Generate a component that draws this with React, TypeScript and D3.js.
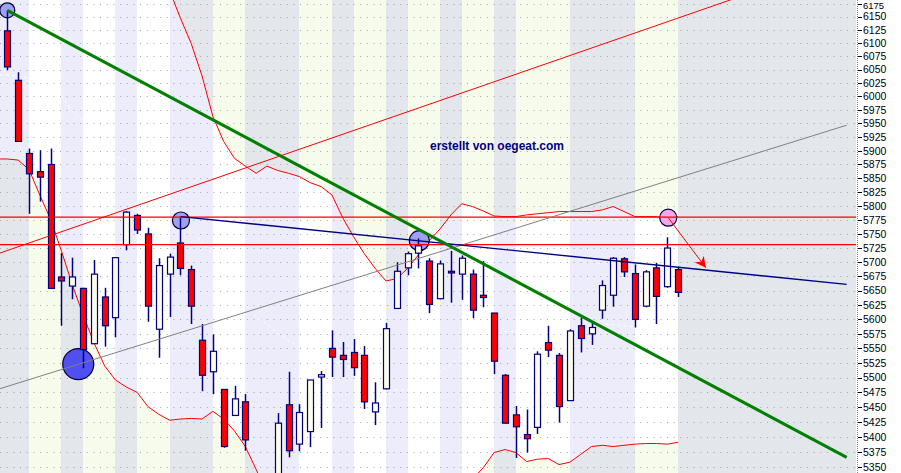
import React, { useEffect } from 'react';
import * as d3 from 'd3';

// ---------------- DATA ----------------
const opens = [6123, 6030, 5895, 5862, 5875, 5674, 5658, 5654, 5558, 5639, 5603, 5731, 5783, 5750, 5583, 5679, 5734, 5687, 5564, 5510, 5480, 5436, 5459, 5335, 5295, 5320, 5454, 5388, 5409, 5501, 5550, 5538, 5543, 5538, 5442, 5481, 5619, 5690, 5716, 5702, 5636, 5684, 5679, 5679, 5642, 5611, 5504, 5437, 5404, 5416, 5560, 5538, 5461, 5589, 5575, 5616, 5642, 5706, 5680, 5623, 5690, 5657, 5687];
const highs = [6162, 6045, 5904, 5901, 5904, 5716, 5708, 5655, 5704, 5655, 5708, 5791, 5786, 5761, 5707, 5715, 5781, 5694, 5592, 5574, 5480, 5486, 5472, 5340, 5338, 5440, 5510, 5455, 5496, 5511, 5581, 5561, 5566, 5554, 5492, 5594, 5700, 5719, 5742, 5707, 5703, 5720, 5712, 5687, 5702, 5611, 5506, 5452, 5446, 5545, 5589, 5542, 5583, 5603, 5596, 5668, 5709, 5709, 5696, 5686, 5699, 5744, 5692];
const lows = [6049, 5916, 5786, 5808, 5653, 5589, 5635, 5516, 5558, 5553, 5569, 5721, 5750, 5596, 5534, 5604, 5677, 5592, 5477, 5472, 5382, 5436, 5377, 5270, 5250, 5300, 5366, 5376, 5383, 5415, 5501, 5501, 5503, 5447, 5420, 5480, 5618, 5677, 5689, 5611, 5635, 5629, 5634, 5602, 5621, 5506, 5423, 5365, 5374, 5405, 5535, 5424, 5461, 5543, 5556, 5601, 5622, 5674, 5586, 5621, 5592, 5655, 5639];
const closes = [6055, 5917, 5858, 5852, 5654, 5667, 5674, 5548, 5679, 5589, 5708, 5789, 5757, 5623, 5694, 5709, 5689, 5623, 5504, 5545, 5384, 5464, 5395, 5290, 5320, 5423, 5377, 5441, 5496, 5505, 5535, 5531, 5517, 5459, 5457, 5584, 5684, 5715, 5729, 5626, 5697, 5681, 5707, 5616, 5638, 5528, 5423, 5417, 5397, 5540, 5547, 5451, 5580, 5567, 5586, 5659, 5707, 5683, 5600, 5683, 5640, 5725, 5647];

const upperBand = [6197, 6196, 6206, 6230, 6254, 6280, 6284, 6302, 6303, 6296, 6284, 6280, 6262, 6245, 6225, 6200, 6147, 6099, 6038, 5963, 5917, 5886, 5872, 5859, 5872, 5864, 5859, 5853, 5842, 5835, 5820, 5779, 5745, 5715, 5689, 5667, 5671, 5689, 5713, 5738, 5759, 5784, 5804, 5799, 5791, 5782, 5781, 5781, 5784, 5786, 5788, 5790, 5790, 5790, 5790, 5793, 5799, 5790, 5781, 5781, 5781, 5777, 5781];
const middleBand = [6040, 6038, 6034, 6025, 6015, 6000, 5973, 5955, 5932, 5908, 5890, 5882, 5860, 5840, 5818, 5795, 5773, 5756, 5735, 5713, 5689, 5662, 5626, 5604, 5592, 5575, 5564, 5552, 5546, 5537, 5529, 5522, 5515, 5501, 5491, 5480, 5479, 5480, 5489, 5501, 5511, 5522, 5539, 5552, 5563, 5573, 5579, 5579, 5577, 5577, 5579, 5580, 5582, 5584, 5589, 5591, 5591, 5589, 5587, 5587, 5589, 5592, 5596];
const lowerBand = [5885, 5883, 5866, 5820, 5776, 5720, 5661, 5608, 5560, 5520, 5496, 5484, 5475, 5451, 5438, 5428, 5430, 5431, 5430, 5443, 5430, 5410, 5384, 5346, 5305, 5290, 5280, 5270, 5265, 5262, 5260, 5262, 5265, 5270, 5275, 5280, 5285, 5290, 5295, 5300, 5305, 5310, 5320, 5330, 5349, 5374, 5379, 5374, 5359, 5363, 5364, 5354, 5358, 5371, 5384, 5386, 5384, 5386, 5388, 5389, 5389, 5388, 5391];

// stripe boundaries (candle index)
const stripeBreaks = [2, 5, 7, 10, 12, 15, 19, 22, 27, 30, 32, 35, 37, 40, 42, 45, 47, 52, 58, 62];

const priceTicks = [5350, 5375, 5400, 5425, 5450, 5475, 5500, 5525, 5550, 5575, 5600, 5625, 5650, 5675, 5700, 5725, 5750, 5775, 5800, 5825, 5850, 5875, 5900, 5925, 5950, 5975, 6000, 6025, 6050, 6075, 6100, 6125, 6150, 6175];

const horizontalLevels = [5780, 5731];

// trend lines: two anchor points (index, price) and drawn range (index)
const lineAnchors = [
  { key: 'gray', i1: 22.13, p1: 5613, i2: 67.72, p2: 5886, from: -1, to: 77.58 },
  { key: 'red', i1: 27.05, p1: 5903, i2: 54.78, p2: 6096, from: -1, to: 80 },
  { key: 'navy', i1: 16.05, p1: 5781, i2: 77.58, p2: 5661, from: 16.05, to: 77.58 },
  { key: 'green', i1: 0, p1: 6162, i2: 77.58, p2: 5366, from: 0, to: 77.58 },
];
const lineStyles: Record<string, { color: string; width: number }> = {
  gray: { color: '#808080', width: 1 },
  red: { color: '#ff0000', width: 1 },
  navy: { color: '#000080', width: 1.4 },
  green: { color: '#008000', width: 3 },
};

const markerIdx = [0, 6.56, 16.05, 38.08, 61.09];
const markerPrice = [6162, 5523, 5774, 5738, 5779];
const markerRadius = [7.5, 15.5, 8.5, 10, 8.5];
const markerFill = ['#a0a0f0', '#5050f0', '#a0a0f0', '#a0a0f0', '#f6a6ec'];

const arrowFrom = { i: 61.09, p: 5779 };
const arrowTo = { i: 64.57, p: 5690 };

// ---------------- CHART ----------------
const W = 901;
const H = 473;
const PR = 856; // plot right edge

export default function App() {
  useEffect(() => {
    document.body.style.margin = '0';
  }, []);

  const x = d3.scaleLinear().domain([0, 62]).range([7.3, 678.1]);
  const y = d3.scaleLog().domain([5350, 6175]).range([467, 3.5]);
  const n = opens.length;
  const iLeft = x.invert(0);
  const topTick = priceTicks[priceTicks.length - 1];

  type BP = { i: number; u: number; m: number; l: number };
  const bandPts: BP[] = [{ i: iLeft, u: upperBand[0], m: middleBand[0], l: lowerBand[0] }];
  for (let i = 0; i < n; i++) bandPts.push({ i, u: upperBand[i], m: middleBand[i], l: lowerBand[i] });

  const area = d3.area<BP>().x(d => x(d.i)).y0(d => y(d.l)).y1(d => y(d.u));
  const lineU = d3.line<BP>().x(d => x(d.i)).y(d => y(d.u));
  const lineL = d3.line<BP>().x(d => x(d.i)).y(d => y(d.l));
  const lineM = d3.line<BP>().x(d => x(d.i)).y(d => y(d.m));

  const bounds = [iLeft, ...stripeBreaks];
  const stripes: { x0: number; x1: number; k: number }[] = [];
  for (let k = 0; k < bounds.length - 1; k++) stripes.push({ x0: x(bounds[k]), x1: x(bounds[k + 1]), k });
  const outside = ['#e3e7eb', '#f7fbeb'];
  const inside = ['#ececfb', '#ffffff'];

  const trend = lineAnchors.map(a => {
    const X1 = x(a.i1), Y1 = y(a.p1), X2 = x(a.i2), Y2 = y(a.p2);
    const slope = (Y2 - Y1) / (X2 - X1);
    const xa = x(a.from), xb = x(a.to);
    return { key: a.key, xa, ya: Y1 + slope * (xa - X1), xb, yb: Y1 + slope * (xb - X1) };
  });

  return (
    <svg width={W} height={H} style={{ position: 'absolute', left: 0, top: 0, display: 'block' }} fontFamily="'Liberation Sans', Arial, sans-serif">
      <defs>
        <clipPath id="plot"><rect x={0} y={0} width={PR} height={H} /></clipPath>
        <clipPath id="band"><path d={area(bandPts) || ''} /></clipPath>
        <marker id="arr" viewBox="0 0 10 10" refX={10} refY={5} markerWidth={11} markerHeight={11} markerUnits="userSpaceOnUse" orient="auto">
          <path d="M0,0 L10,5 L0,10 L3,5 z" fill="#ff0000" />
        </marker>
      </defs>
      <rect x={0} y={0} width={W} height={H} fill="#ffffff" />
      <g clipPath="url(#plot)">
        <rect x={0} y={0} width={PR} height={H} fill="#e3e7eb" />
        {stripes.map(s => (
          <rect key={'o' + s.k} x={s.x0} y={0} width={s.x1 - s.x0} height={H} fill={outside[s.k % 2]} shapeRendering="crispEdges" />
        ))}
        <g clipPath="url(#band)">
          {stripes.map(s => (
            <rect key={'i' + s.k} x={s.x0} y={0} width={s.x1 - s.x0} height={H} fill={inside[s.k % 2]} shapeRendering="crispEdges" />
          ))}
        </g>
        {priceTicks.map(t => (
          <line key={'g' + t} x1={0} x2={PR} y1={Math.round(y(t)) + 0.5} y2={Math.round(y(t)) + 0.5} stroke="#a4a4a4" strokeDasharray="1 5.67" />
        ))}
        <path d={lineM(bandPts) || ''} fill="none" stroke="#ffffff" strokeWidth={1} strokeDasharray="3 3" />
        <path d={lineU(bandPts) || ''} fill="none" stroke="#ff0000" strokeWidth={1} />
        <path d={lineL(bandPts) || ''} fill="none" stroke="#ff0000" strokeWidth={1} />
        {markerIdx.map((mi, k) => (
          <circle key={'c' + k} cx={x(mi)} cy={y(markerPrice[k])} r={markerRadius[k]} fill={markerFill[k]} stroke="#000033" strokeWidth={1.2} />
        ))}
        {opens.map((o, i) => {
          const c = closes[i];
          const cx = Math.round(x(i)) + 0.5;
          const top = y(Math.max(o, c));
          const bot = y(Math.min(o, c));
          const up = c >= o;
          return (
            <g key={'k' + i}>
              <line x1={cx} x2={cx} y1={y(highs[i])} y2={y(lows[i])} stroke="#000080" strokeWidth={1.5} />
              <rect x={cx - 3} y={top} width={6} height={Math.max(1, bot - top)} fill={up ? '#fcfcea' : '#ff0000'} stroke="#000080" strokeWidth={1.2} />
            </g>
          );
        })}
        {horizontalLevels.map(h => (
          <line key={'h' + h} x1={0} x2={PR} y1={y(h)} y2={y(h)} stroke="#ff0000" strokeWidth={1.4} />
        ))}
        {trend.map(t => (
          <line key={t.key} x1={t.xa} y1={t.ya} x2={t.xb} y2={t.yb} stroke={lineStyles[t.key].color} strokeWidth={lineStyles[t.key].width} />
        ))}
        <line x1={x(arrowFrom.i)} y1={y(arrowFrom.p)} x2={x(arrowTo.i)} y2={y(arrowTo.p)} stroke="#ff0000" strokeWidth={1} markerEnd="url(#arr)" />
        <text x={430} y={150} fontSize={12} fontWeight="bold" fill="#000080">erstellt von oegeat.com</text>
      </g>
      <line x1={PR + 1.5} x2={PR + 1.5} y1={0} y2={H} stroke="#808080" strokeDasharray="1 1" />
      {priceTicks.map(t => (
        <g key={'t' + t}>
          <line x1={PR + 2} x2={PR + 6} y1={Math.round(y(t)) + 0.5} y2={Math.round(y(t)) + 0.5} stroke="#000000" />
          <text x={PR + 7} y={t === topTick ? 5.3 : y(t)} dy="0.36em" fontSize={t === topTick ? 9.5 : 10.5} fill="#000000">{t}</text>
        </g>
      ))}
    </svg>
  );
}
